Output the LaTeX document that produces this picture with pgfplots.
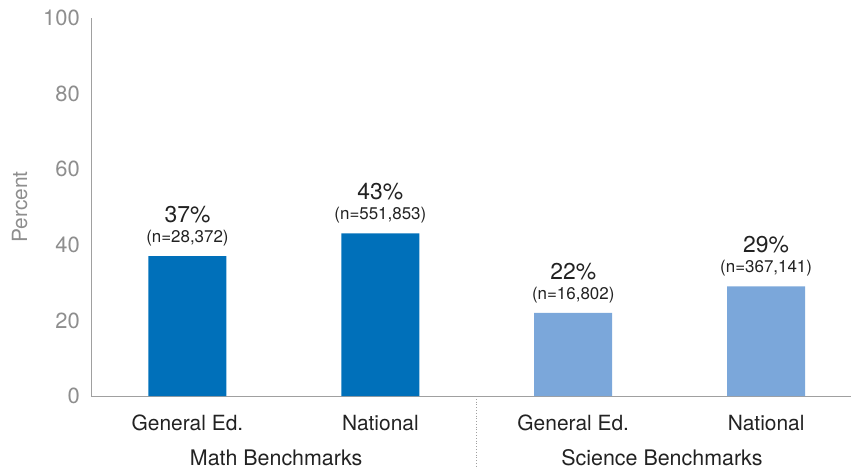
\documentclass[border=0pt]{standalone}
\usepackage{fontspec}
\setmainfont{TeX Gyre Heros}
\usepackage{pgfplots}
\pgfplotsset{compat=1.18}
\definecolor{mathblue}{HTML}{0070BA}
\definecolor{sciblue}{HTML}{7BA7DA}
\definecolor{axisgray}{HTML}{A0A0A0}
\definecolor{ticktext}{HTML}{8E8E8E}
\definecolor{labeltext}{HTML}{222222}

\begin{document}
\begin{tikzpicture}
	\begin{axis}[
		scale only axis,
		width=760bp, height=378bp,
		xmin=-0.5, xmax=3.44,
		ymin=0, ymax=100,
		ybar, bar width=78bp,
		axis x line=bottom, axis y line=left,
		axis line style={-, axisgray, line width=1pt},
		major tick length=0pt,
		xtick={0,1,2,3},
		xticklabels={General Ed., National, General Ed., National},
		ytick={0,20,...,100},
		/pgf/number format/assume math mode=true,
		yticklabel style={font=\fontsize{22}{22}\selectfont, text=ticktext, anchor=east, inner sep=0pt, xshift=-11bp},
		xticklabel style={font=\fontsize{21}{21}\selectfont, text=labeltext, anchor=base, inner sep=0pt, yshift=-34bp},
		ylabel={Percent},
		ylabel style={font=\fontsize{21}{21}\selectfont, text=ticktext, at={(axis description cs:-0.0842,0.5)}, anchor=base, rotate=0},
		point meta=explicit symbolic,
		visualization depends on={y \as \yval},
		nodes near coords={{\fontsize{23}{23}\selectfont\pgfmathprintnumber[fixed,precision=0]{\yval}\%}\\(n=\pgfplotspointmeta)},
		every node near coord/.append style={font=\fontsize{17}{20}\selectfont, text=labeltext, align=center, anchor=south, inner sep=0pt, yshift=10bp},
		clip=false,
		]
	\addplot[fill=mathblue, draw=none, bar shift=0pt] coordinates
		{(0,37) [{28,372}] (1,43) [{551,853}]};
	\addplot[fill=sciblue, draw=none, bar shift=0pt] coordinates
		{(2,22) [{16,802}] (3,29) [{367,141}]};
	\draw[axisgray, dotted, line width=0.8pt] (axis cs:1.5,0) -- ([yshift=-80bp]axis cs:1.5,0);
	\node[font=\fontsize{21.5}{21.5}\selectfont, text=labeltext, anchor=base, yshift=-69bp] at (axis cs:0.46,0) {Math Benchmarks};
	\node[font=\fontsize{21.5}{21.5}\selectfont, text=labeltext, anchor=base, yshift=-69bp] at (axis cs:2.46,0) {Science Benchmarks};
	\coordinate (sw) at (rel axis cs:0,0);
	\coordinate (ne) at (rel axis cs:1,1);
	\end{axis}
	\pgfresetboundingbox
	\path ([shift={(-91bp,-73bp)}]sw) rectangle ([shift={(0bp,18bp)}]ne);
\end{tikzpicture}
\end{document}
